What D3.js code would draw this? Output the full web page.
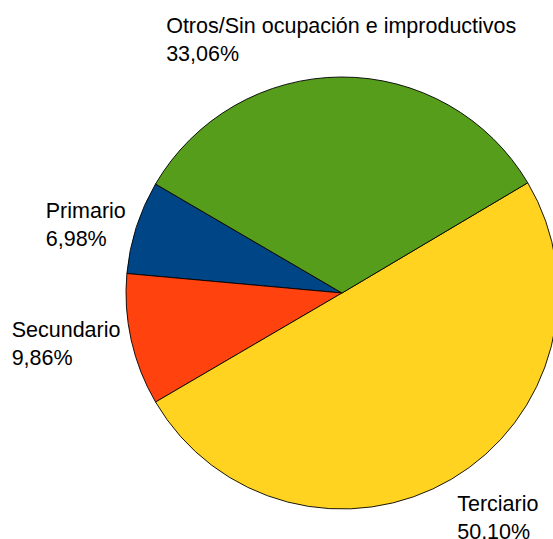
<!DOCTYPE html>
<html>
<head>
<meta charset="utf-8">
<script src="https://cdn.jsdelivr.net/npm/d3@7"></script>
<style>
    body { margin: 0; background: #fff; }
    svg { display: block; }
</style>
</head>
<body>
<svg id="pie"></svg>
<script>
var categories = ["Primario", "Secundario", "Terciario", "Otros/Sin ocupación e improductivos"];
var values = [6.98, 9.86, 50.10, 33.06];
var colors = ["#004586", "#ff420e", "#ffd320", "#579d1c"];

var svgW = 553, svgH = 539;
var cx = 342, cy = 293, radius = 216;
var labelOffset = 11;
var fontSize = 21.5, lineH = 28;
var startDeg = 300.3;

var locale = d3.formatLocale({ decimal: ",", thousands: ".", grouping: [3], currency: ["", ""] });
var pctFormat = locale.format(".2f");

var svg = d3.select("#pie").attr("width", svgW).attr("height", svgH);
var rootG = svg.append("g").attr("transform", `translate(${cx},${cy})`);

var datas = categories.map(function (name, i) {
    return { type: name, value: values[i], color: colors[i] };
});

// LibreOffice style: counter-clockwise from the start angle
var pie = d3.pie()
    .sort(null)
    .value(function (d) { return d.value; })
    .startAngle(startDeg * Math.PI / 180)
    .endAngle(startDeg * Math.PI / 180 - 2 * Math.PI);

var arc = d3.arc().innerRadius(0).outerRadius(radius);
var arcs = pie(datas);

rootG.selectAll("path.slice")
    .data(arcs)
    .enter()
    .append("path")
    .attr("class", "slice")
    .attr("d", arc)
    .attr("fill", function (d) { return d.data.color; })
    .attr("stroke", "#000")
    .attr("stroke-width", 0.9)
    .attr("stroke-linejoin", "round");

var labelG = rootG.selectAll("g.label")
    .data(arcs)
    .enter()
    .append("g")
    .attr("class", "label");

labelG.each(function (d) {
    var g = d3.select(this);
    var lines = [d.data.type, pctFormat(d.data.value) + "%"];
    var texts = g.selectAll("text")
        .data(lines)
        .enter()
        .append("text")
        .attr("x", 0)
        .attr("y", function (t, i) { return 22.5 + i * lineH; })
        .attr("font-family", "'Liberation Sans', Arial, sans-serif")
        .attr("font-size", fontSize)
        .attr("fill", "#000")
        .text(function (t) { return t; });
    var blockW = d3.max(texts.nodes(), function (n) { return n.getComputedTextLength(); });
    var blockH = lines.length * lineH;

    var mid = (d.startAngle + d.endAngle) / 2;
    var dx = Math.sin(mid), dy = -Math.cos(mid);
    var dist = radius + labelOffset;
    var ax = dx * dist, ay = dy * dist;
    var left = dx > 0.5 ? ax : (dx < -0.5 ? ax - blockW : ax - blockW / 2);
    var top = dy > 0.5 ? ay : (dy < -0.5 ? ay - blockH : ay - blockH / 2);
    g.attr("transform", `translate(${left},${top})`);
});
</script>
</body>
</html>
